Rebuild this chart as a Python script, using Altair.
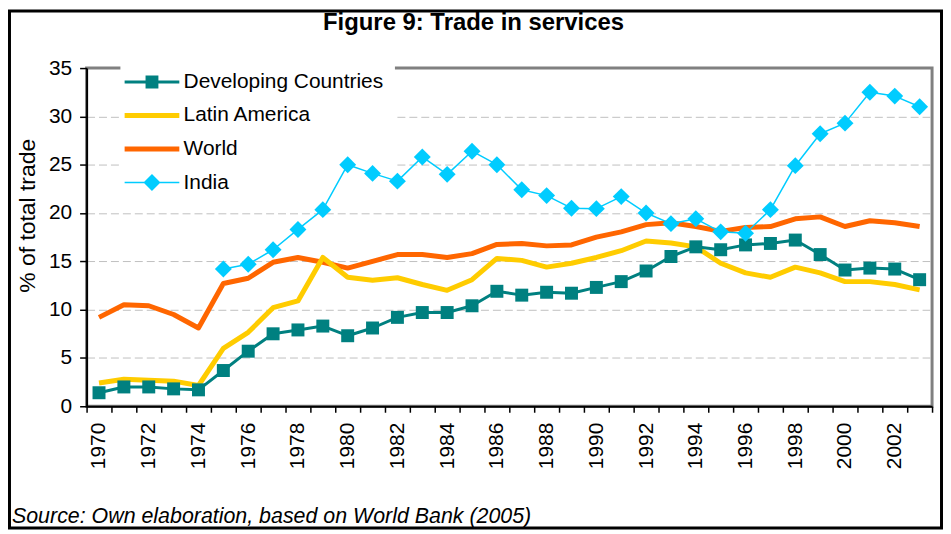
import altair as alt
import pandas as pd

# ---------------- data ----------------
years = list(range(1970, 2004))

developing = [1.4, 2.0, 2.0, 1.8, 1.7, 3.7, 5.7, 7.5, 7.9, 8.3,
              7.3, 8.1, 9.2, 9.7, 9.7, 10.4, 11.9, 11.5, 11.8, 11.7,
              12.3, 12.9, 14.0, 15.5, 16.5, 16.2, 16.7, 16.85, 17.2, 15.7,
              14.1, 14.3, 14.2, 13.1]
latin_america = [2.4, 2.8, 2.7, 2.6, 2.15, 6.0, 7.65, 10.2, 10.9, 15.4,
                 13.35, 13.05, 13.3, 12.6, 12.0, 13.1, 15.3, 15.1, 14.4, 14.8,
                 15.4, 16.1, 17.1, 16.9, 16.5, 14.8, 13.8, 13.35, 14.4, 13.8,
                 12.9, 12.9, 12.6, 12.05]
world = [9.2, 10.5, 10.4, 9.5, 8.1, 12.7, 13.25, 14.9, 15.4, 14.9,
         14.3, 15.0, 15.7, 15.7, 15.4, 15.8, 16.75, 16.85, 16.6, 16.7,
         17.5, 18.05, 18.8, 19.0, 18.6, 18.1, 18.5, 18.6, 19.4, 19.6,
         18.6, 19.2, 19.0, 18.6]
india = [None, None, None, None, None, 14.2, 14.7, 16.2, 18.3, 20.35,
         25.0, 24.1, 23.3, 25.8, 24.0, 26.4, 25.0, 22.4, 21.8, 20.5,
         20.45, 21.7, 20.0, 18.9, 19.4, 18.05, 17.9, 20.35, 24.9, 28.2,
         29.3, 32.5, 32.1, 31.0]

series_names = ["Developing Countries", "Latin America", "World", "India"]
series_colors = ["#008080", "#FFCC00", "#FF6600", "#00CCFF"]
line_widths = {"Developing Countries": 3, "Latin America": 5, "World": 5, "India": 1.5}
draw_order = ["World", "Latin America", "Developing Countries", "India"]
marker_series = ["Developing Countries", "India"]
marker_shapes = ["square", "diamond"]
marker_sizes = [170, 289]

y_ticks = [0, 5, 10, 15, 20, 25, 30, 35]

title_text = "Figure 9: Trade in services"
y_title = "% of total trade"
source_text = "Source: Own elaboration, based on World Bank (2005)"

# legend symbols (line + marker) as custom paths
legend_paths = [
    "M-1,-0.11H3V0.11H-1Z M0.53,-0.47H1.47V0.47H0.53Z",
    "M-1,-0.18H3V0.18H-1Z",
    "M-1,-0.18H3V0.18H-1Z",
    "M-1,-0.055H3V0.055H-1Z M1,-0.62L1.62,0L1,0.62L0.38,0Z",
]

values_by_series = {
    "Developing Countries": developing,
    "Latin America": latin_america,
    "World": world,
    "India": india,
}
rows = []
for name in draw_order:
    for yr, v in zip(years, values_by_series[name]):
        if v is not None:
            rows.append({"year": yr, "value": v, "series": name})
df = pd.DataFrame(rows)

FONT = "Liberation Sans"
W, H = 850, 340

x_enc = alt.X(
    "year:O",
    scale=alt.Scale(type="band", paddingInner=0, paddingOuter=0, domain=years),
    axis=alt.Axis(
        title=None, tickBand="extent", labelAngle=270,
        labelExpr="datum.value % 2 == 0 ? datum.label : ''",
        labelFont=FONT, labelFontSize=21, labelColor="black",
        labelOverlap=False, labelPadding=10,
        tickColor="black", tickSize=6, tickWidth=1.5,
        domainColor="black", domainWidth=2, grid=False,
    ),
)
y_enc = alt.Y(
    "value:Q",
    scale=alt.Scale(domain=[0, 35], nice=False, zero=True),
    axis=alt.Axis(
        values=y_ticks, title=y_title, titleFont=FONT, titleFontSize=23,
        titleFontWeight="normal", titleColor="black", titlePadding=9, titleY=148,
        labelFont=FONT, labelFontSize=21, labelColor="black", labelPadding=8,
        tickColor="black", tickSize=7, tickWidth=1.5,
        domainColor="black", domainWidth=2,
        grid=True, gridColor="#BFBFBF", gridDash=[8, 4], gridWidth=1,
        gridOpacity={"condition": {"test": "datum.value >= 35 || datum.value <= 0", "value": 0}, "value": 1},
    ),
)
color_enc = alt.Color("series:N", scale=alt.Scale(domain=series_names, range=series_colors), legend=None)

one = pd.DataFrame({"k": [0]})

# white box behind the legend (covers gridlines and top border, under the data)
legend_box = alt.Chart(one).mark_rect(fill="white", stroke=None).encode(
    x=alt.value(34), x2=alt.value(310), y=alt.value(-4), y2=alt.value(132)
)

line_layers = []
for name in draw_order:
    line_layers.append(
        alt.Chart(df).transform_filter(alt.datum.series == name)
        .mark_line(strokeJoin="round", strokeCap="butt", strokeWidth=line_widths[name])
        .encode(x=x_enc, y=y_enc, color=color_enc)
    )
    if name in marker_series:
        line_layers.append(
            alt.Chart(df).transform_filter(alt.datum.series == name)
            .mark_point(filled=True, opacity=1, strokeWidth=0)
            .encode(
                x=x_enc, y=y_enc, color=color_enc,
                shape=alt.Shape("series:N", scale=alt.Scale(domain=marker_series, range=marker_shapes), legend=None),
                size=alt.Size("series:N", scale=alt.Scale(domain=marker_series, range=marker_sizes), legend=None),
            )
        )

legend_props = dict(
    orient="none", legendX=38, legendY=0, title=None, padding=0,
    labelFont=FONT, labelFontSize=21, labelColor="black", labelLimit=0,
    symbolSize=756, symbolStrokeWidth=0, symbolOpacity=1,
    rowPadding=9.7, labelOffset=31.5,
)
legend_layer = alt.Chart(pd.DataFrame({"series": series_names})).transform_filter("false").mark_point(
    filled=True, opacity=1
).encode(
    color=alt.Color("series:N", scale=alt.Scale(domain=series_names, range=series_colors),
                    legend=alt.Legend(**legend_props)),
    shape=alt.Shape("series:N", scale=alt.Scale(domain=series_names, range=legend_paths),
                    legend=alt.Legend(**legend_props)),
)

title_layer = alt.Chart(pd.DataFrame({"t": [title_text]})).mark_text(
    align="center", baseline="middle", font=FONT, fontSize=24, fontWeight="bold", color="black"
).encode(text="t:N", x=alt.value(389), y=alt.value(-45))

source_layer = alt.Chart(pd.DataFrame({"t": [source_text]})).mark_text(
    align="left", baseline="middle", font=FONT, fontSize=21.5, fontStyle="italic", color="black"
).encode(text="t:N", x=alt.value(-75), y=alt.value(451))

frame = alt.Chart(one).mark_rect(fill=None, stroke="black", strokeWidth=3).encode(
    x=alt.value(-77.5), x2=alt.value(859.5), y=alt.value(-57.5), y2=alt.value(462.5)
)

chart = alt.layer(
    legend_box, *line_layers, legend_layer, title_layer, source_layer, frame
).resolve_scale(
    color="independent", shape="independent", size="independent"
).properties(
    width=W, height=H,
    autosize=alt.AutoSizeParams(type="none"),
    padding={"left": 79, "top": 59, "right": 11, "bottom": 124},
).configure(background="white").configure_view(stroke="#808080", strokeWidth=3, fill="white")

chart.save("out.html", embed_options={"renderer": "svg", "actions": False})
